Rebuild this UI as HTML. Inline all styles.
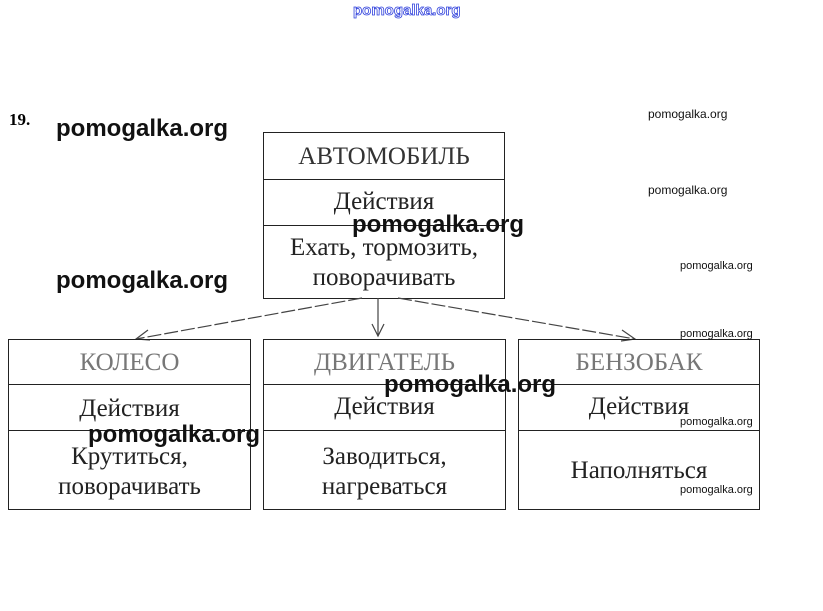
<!DOCTYPE html>
<html><head><meta charset="utf-8"><style>
body{margin:0;width:823px;height:611px;background:#fff;position:relative;overflow:hidden;font-family:"Liberation Serif",serif}
.b{position:absolute;border:1px solid #222;box-sizing:border-box}
.h{position:absolute;left:0;right:0;border-top:1px solid #222}
.t{position:absolute;left:0;right:0;text-align:center;font-size:25px;color:#222;line-height:30px;white-space:nowrap}
.w{position:absolute;font-family:"Liberation Sans",sans-serif;font-weight:bold;color:#111;font-size:24px}
.s{position:absolute;font-family:"Liberation Sans",sans-serif;color:#111;font-size:11px}
</style></head><body>
<div style="position:absolute;left:353px;top:2px;font-family:'Liberation Sans',sans-serif;font-size:15px;color:#fff;-webkit-text-stroke:0.8px #3344dd;font-weight:bold">pomogalka.org</div>
<div style="position:absolute;left:9px;top:110px;font-weight:bold;font-size:17px">19.</div>

<div class="b" style="left:263px;top:132px;width:242px;height:167px">
<div class="h" style="top:46px"></div><div class="h" style="top:92px"></div>
<div class="t" style="top:9px;color:#333">АВТОМОБИЛЬ</div>
<div class="t" style="top:54px">Действия</div>
<div class="t" style="top:100px">Ехать, тормозить,</div>
<div class="t" style="top:130px">поворачивать</div>
</div>

<svg style="position:absolute;left:0;top:0" width="823" height="611">
<g stroke="#444" stroke-width="1.2" fill="none">
<line x1="362" y1="298" x2="136" y2="339" stroke-dasharray="14 3"/>
<polyline points="148,330 136,339 150,340"/>
<line x1="378" y1="298" x2="378" y2="336"/>
<polyline points="372,324 378,336 384,324"/>
<line x1="398" y1="298" x2="635" y2="339" stroke-dasharray="14 3"/>
<polyline points="622,330 635,339 621,341"/>
</g></svg>

<div class="b" style="left:8px;top:339px;width:243px;height:171px">
<div class="h" style="top:44px"></div><div class="h" style="top:90px"></div>
<div class="t" style="top:8px;color:#777">КОЛЕСО</div>
<div class="t" style="top:54px">Действия</div>
<div class="t" style="top:102px">Крутиться,</div>
<div class="t" style="top:132px">поворачивать</div>
</div>
<div class="b" style="left:263px;top:339px;width:243px;height:171px">
<div class="h" style="top:44px"></div><div class="h" style="top:90px"></div>
<div class="t" style="top:8px;color:#777">ДВИГАТЕЛЬ</div>
<div class="t" style="top:52px">Действия</div>
<div class="t" style="top:102px">Заводиться,</div>
<div class="t" style="top:132px">нагреваться</div>
</div>
<div class="b" style="left:518px;top:339px;width:242px;height:171px">
<div class="h" style="top:44px"></div><div class="h" style="top:90px"></div>
<div class="t" style="top:8px;color:#777">БЕНЗОБАК</div>
<div class="t" style="top:52px">Действия</div>
<div class="t" style="top:116px">Наполняться</div>
</div>

<div class="w" style="left:56px;top:115px">pomogalka.org</div>
<div class="w" style="left:56px;top:267px">pomogalka.org</div>
<div class="w" style="left:352px;top:211px">pomogalka.org</div>
<div class="w" style="left:384px;top:371px">pomogalka.org</div>
<div class="w" style="left:88px;top:421px">pomogalka.org</div>
<div class="s" style="left:648px;top:107px;font-size:12px">pomogalka.org</div>
<div class="s" style="left:648px;top:183px;font-size:12px">pomogalka.org</div>
<div class="s" style="left:680px;top:260px">pomogalka.org</div>
<div class="s" style="left:680px;top:328px">pomogalka.org</div>
<div class="s" style="left:680px;top:416px">pomogalka.org</div>
<div class="s" style="left:680px;top:484px">pomogalka.org</div>
</body></html>
